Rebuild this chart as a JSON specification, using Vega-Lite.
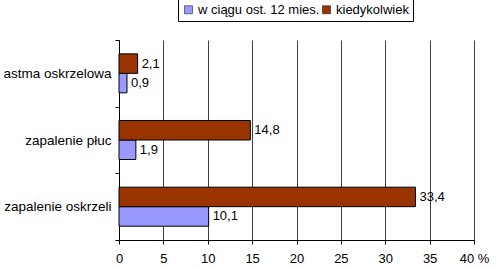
{
  "$schema": "https://vega.github.io/schema/vega-lite/v6.json",
  "width": 355,
  "height": 200,
  "autosize": {"type": "none"},
  "padding": {"left": 119, "top": 40, "right": 26, "bottom": 27},
  "background": "white",
  "config": {
    "locale": {"number": {"decimal": ",", "thousands": " ", "grouping": [3], "currency": ["", " zł"]}},
    "font": "Liberation Sans",
    "view": {"stroke": null}
  },
  "data": {
    "values": [
      {"choroba": "astma oskrzelowa", "okres": "w ciągu ost. 12 mies.", "procent": 0.9},
      {"choroba": "astma oskrzelowa", "okres": "kiedykolwiek", "procent": 2.1},
      {"choroba": "zapalenie płuc", "okres": "w ciągu ost. 12 mies.", "procent": 1.9},
      {"choroba": "zapalenie płuc", "okres": "kiedykolwiek", "procent": 14.8},
      {"choroba": "zapalenie oskrzeli", "okres": "w ciągu ost. 12 mies.", "procent": 10.1},
      {"choroba": "zapalenie oskrzeli", "okres": "kiedykolwiek", "procent": 33.4}
    ]
  },
  "encoding": {
    "y": {
      "field": "choroba", "type": "nominal",
      "sort": ["astma oskrzelowa", "zapalenie płuc", "zapalenie oskrzeli"],
      "scale": {"paddingInner": 0, "paddingOuter": 0},
      "axis": {
        "title": null, "tickBand": "extent", "tickSize": 4, "tickColor": "#000",
        "domainColor": "#000", "labelFontSize": 13.5, "labelColor": "#000",
        "labelPadding": 4, "labelFont": "Liberation Sans"
      }
    },
    "yOffset": {
      "field": "okres", "type": "nominal",
      "sort": ["kiedykolwiek", "w ciągu ost. 12 mies."],
      "scale": {"paddingInner": 0, "paddingOuter": 0.71}
    },
    "x": {
      "field": "procent", "type": "quantitative",
      "scale": {"domain": [0, 40], "nice": false},
      "axis": {
        "title": null, "values": [0, 5, 10, 15, 20, 25, 30, 35, 40],
        "grid": true, "gridColor": "#404040", "gridWidth": 1,
        "tickColor": "#000", "tickSize": 4, "domainColor": "#000",
        "labelFontSize": 13, "labelColor": "#000", "labelPadding": 8,
        "labelFont": "Liberation Sans",
        "labelExpr": "datum.value == 40 ? '40  %' : datum.label",
        "labelFlush": false
      }
    }
  },
  "layer": [
    {
      "mark": {"type": "bar", "stroke": "#000", "strokeWidth": 1},
      "encoding": {
        "color": {
          "field": "okres", "type": "nominal",
          "scale": {"domain": ["w ciągu ost. 12 mies.", "kiedykolwiek"], "range": ["#9999FF", "#993300"]},
          "legend": {
            "title": null, "orient": "none", "legendX": 59, "legendY": -41,
            "direction": "horizontal", "symbolType": "square", "symbolSize": 64,
            "symbolStrokeColor": "#000", "symbolStrokeWidth": 0.5,
            "labelFontSize": 13, "labelColor": "#000", "labelFont": "Liberation Sans",
            "strokeColor": "#000", "padding": 4, "columnPadding": 0, "labelOffset": 3
          }
        }
      }
    },
    {
      "mark": {"type": "text", "align": "left", "baseline": "middle", "dx": 4, "fontSize": 13, "color": "#000", "font": "Liberation Sans"},
      "encoding": {
        "text": {"field": "procent", "type": "quantitative", "format": ".1f"}
      }
    }
  ]
}
